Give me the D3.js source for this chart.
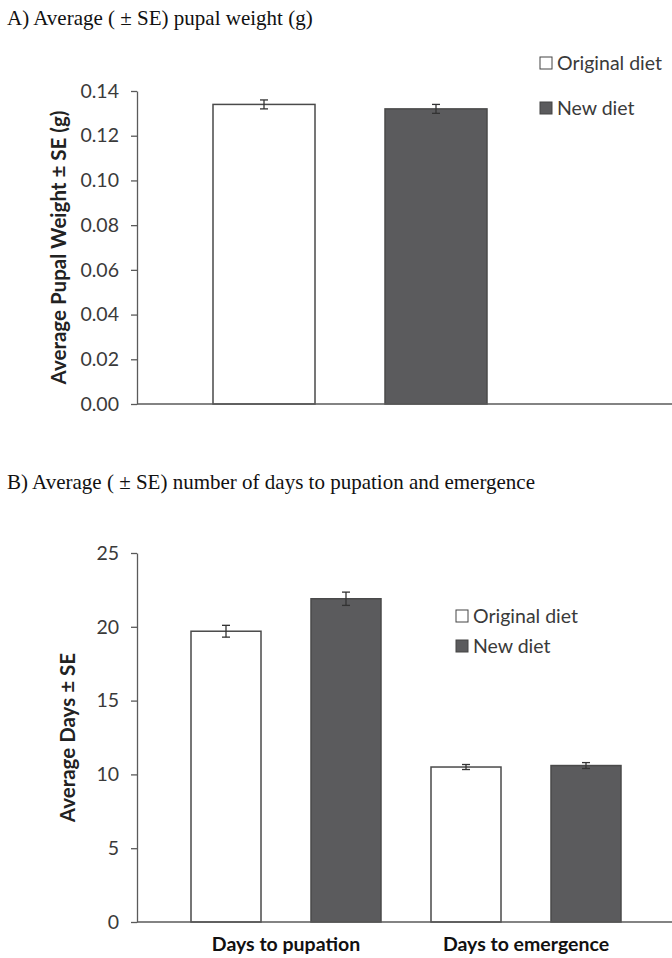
<!DOCTYPE html>
<html>
<head>
<meta charset="utf-8">
<script src="https://cdnjs.cloudflare.com/ajax/libs/d3/7.8.5/d3.min.js"></script>
<style>
  body { margin: 0; background: #fff; }
  svg { display: block; }
</style>
</head>
<body>
<div id="chart"></div>
<script>
// Data
const seriesNames = ["Original diet", "New diet"];
const seriesFill = ["#ffffff", "#5b5b5d"];

const weightCategory = ["Pupal weight"];
const weightMeans = [0.134, 0.132];
const weightSE = [0.002, 0.002];
const weightTicks = [0, 0.02, 0.04, 0.06, 0.08, 0.10, 0.12, 0.14];

const dayCategories = ["Days to pupation", "Days to emergence"];
const daysOriginal = [19.7, 10.5];
const daysOriginalSE = [0.4, 0.17];
const daysNew = [21.9, 10.6];
const daysNewSE = [0.45, 0.2];
const dayTicks = [0, 5, 10, 15, 20, 25];

const W = 672, H = 958;
const sans = "Lato, 'Open Sans', sans-serif";
const serif = "'Liberation Serif', 'Times New Roman', serif";
const axisColor = "#5a5a5a";
const textColor = "#3a3a3a";

const svg = d3.select("#chart")
    .append("svg")
    .attr("width", W)
    .attr("height", H)
    .attr("viewBox", `0 0 ${W} ${H}`);

// Draw one panel: y scale, grouped bars with error bars, axes
function panel(opts) {
    const g = svg.append("g");

    const y = d3.scaleLinear()
        .domain(opts.yDomain)
        .range(opts.yRange);

    const x0 = d3.scaleBand()
        .domain(opts.categories)
        .range(opts.xRange);

    const x1 = d3.scaleBand()
        .domain(seriesNames)
        .range(opts.innerRange)
        .paddingInner(opts.innerPad)
        .paddingOuter(0);

    // y axis
    const yAxis = d3.axisLeft(y)
        .tickValues(opts.ticks)
        .tickFormat(opts.fmt)
        .tickSize(6)
        .tickSizeOuter(0)
        .tickPadding(12);

    const ya = g.append("g")
        .attr("transform", `translate(${opts.xAxisStart},0)`)
        .call(yAxis);
    ya.select(".domain").attr("stroke", axisColor).attr("stroke-width", 1.3);
    ya.selectAll(".tick line").attr("stroke", axisColor).attr("stroke-width", 1.3);
    ya.selectAll(".tick text")
        .attr("fill", textColor)
        .style("font-family", sans)
        .style("font-size", "19.5px");

    // bars
    const rows = opts.categories.map((c, i) => ({ cat: c, vals: opts.values.map(v => v[i]), errs: opts.errors.map(e => e[i]) }));

    rows.forEach(r => {
        seriesNames.forEach((s, k) => {
            const bx = x0(r.cat) + x1(s);
            g.append("rect")
                .attr("x", bx)
                .attr("y", y(r.vals[k]))
                .attr("width", x1.bandwidth())
                .attr("height", y(0) - y(r.vals[k]))
                .attr("fill", seriesFill[k])
                .attr("stroke", "#4a4a4a")
                .attr("stroke-width", 1.5);

            // error bar
            const cx = bx + x1.bandwidth() / 2;
            const top = y(r.vals[k] + r.errs[k]);
            const bot = y(r.vals[k] - r.errs[k]);
            const eb = g.append("g").attr("stroke", "#333").attr("stroke-width", 1.3);
            eb.append("line").attr("x1", cx).attr("x2", cx).attr("y1", top).attr("y2", bot);
            eb.append("line").attr("x1", cx - 4).attr("x2", cx + 4).attr("y1", top).attr("y2", top);
            eb.append("line").attr("x1", cx - 4).attr("x2", cx + 4).attr("y1", bot).attr("y2", bot);
        });
    });

    // x axis line
    g.append("line")
        .attr("x1", opts.xAxisStart)
        .attr("x2", W)
        .attr("y1", y(0))
        .attr("y2", y(0))
        .attr("stroke", axisColor)
        .attr("stroke-width", 1.5);

    // y axis title
    g.append("text")
        .attr("transform", `translate(${opts.yLabelX},${(opts.yRange[0] + opts.yRange[1]) / 2}) rotate(-90)`)
        .attr("text-anchor", "middle")
        .attr("fill", "#222")
        .style("font-family", sans)
        .style("font-size", "20.5px")
        .style("font-weight", "bold")
        .text(opts.yLabel);

    // legend
    seriesNames.forEach((s, k) => {
        const ly = opts.legendY[k];
        g.append("rect")
            .attr("x", opts.legendX)
            .attr("y", ly - 13)
            .attr("width", 12)
            .attr("height", 12)
            .attr("fill", seriesFill[k])
            .attr("stroke", "#444")
            .attr("stroke-width", 1);
        g.append("text")
            .attr("x", opts.legendX + 17)
            .attr("y", ly)
            .attr("fill", textColor)
            .style("font-family", sans)
            .style("font-size", "19.5px")
            .text(s);
    });

    return { g, x0, y };
}

// Panel A
svg.append("text")
    .attr("x", 7)
    .attr("y", 25)
    .attr("fill", "#111")
    .style("font-family", serif)
    .style("font-size", "21px")
    .text("A) Average ( ± SE) pupal weight (g)");

panel({
    categories: weightCategory,
    values: [[weightMeans[0]], [weightMeans[1]]],
    errors: [[weightSE[0]], [weightSE[1]]],
    yDomain: [0, 0.14],
    yRange: [404, 91],
    ticks: weightTicks,
    fmt: d3.format(".2f"),
    xRange: [137, 563],
    innerRange: [76, 350],
    innerPad: 70 / 172,
    xAxisStart: 137,
    yLabel: "Average  Pupal Weight ± SE (g)",
    yLabelX: 66,
    legendX: 540,
    legendY: [70, 115]
});

// Panel B
svg.append("text")
    .attr("x", 7)
    .attr("y", 489)
    .attr("fill", "#111")
    .style("font-family", serif)
    .style("font-size", "21px")
    .text("B) Average ( ± SE) number of days to pupation and emergence");

const pb = panel({
    categories: dayCategories,
    values: [daysOriginal, daysNew],
    errors: [daysOriginalSE, daysNewSE],
    yDomain: [0, 25],
    yRange: [922, 553],
    ticks: dayTicks,
    fmt: d3.format("d"),
    xRange: [166, 646],
    innerRange: [25, 215],
    innerPad: 50 / 120,
    xAxisStart: 137,
    yLabel: "Average Days ± SE",
    yLabelX: 75,
    legendX: 456,
    legendY: [623, 653]
});

// category labels for panel B
dayCategories.forEach(c => {
    pb.g.append("text")
        .attr("x", pb.x0(c) + pb.x0.bandwidth() / 2)
        .attr("y", 951)
        .attr("text-anchor", "middle")
        .attr("fill", "#111")
        .style("font-family", sans)
        .style("font-size", "19.5px")
        .style("font-weight", "bold")
        .text(c);
});
</script>
</body>
</html>
